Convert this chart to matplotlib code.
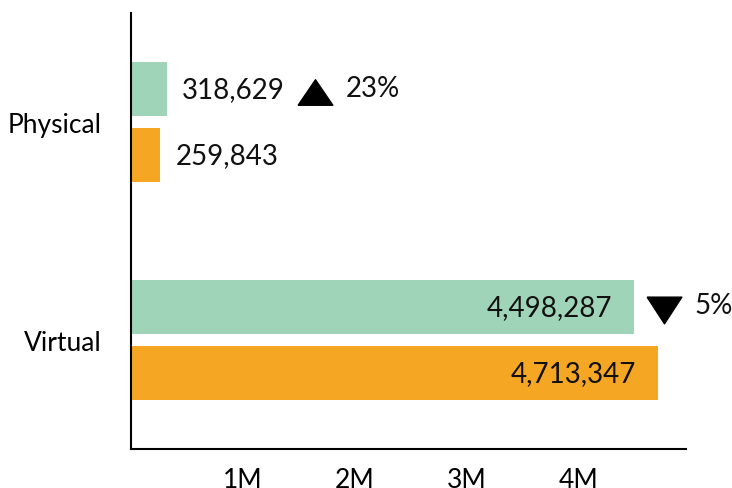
import numpy as np
import matplotlib.pyplot as plt

plt.rcParams['font.family'] = ['Lato', 'DejaVu Sans']

categories = ['Physical', 'Virtual']
current = [318629, 4498287]
previous = [259843, 4713347]
change_labels = ['23%', '5%']
change_dirs = ['up', 'down']
tick_vals = [1e6, 2e6, 3e6, 4e6]
tick_labels = ['1M', '2M', '3M', '4M']

green = '#a0d4b8'
orange = '#f5a623'

fig = plt.figure(figsize=(7.32, 4.89), dpi=100)
ax = fig.add_axes([0.179, 0.080, 0.758, 0.891])

y = np.arange(len(categories))
h = 0.25
off = 0.152
bars_cur = ax.barh(y - off, current, height=h, color=green)
bars_prev = ax.barh(y + off, previous, height=h, color=orange)

ax.set_xlim(0, 4.96e6)
ax.set_ylim(1.50, -0.50)
ax.set_yticks(y)
ax.set_yticklabels(categories, fontsize=19)
ax.set_xticks(tick_vals)
ax.set_xticklabels(tick_labels, fontsize=19)
ax.tick_params(axis='both', length=0)
ax.tick_params(axis='y', pad=21)
ax.tick_params(axis='x', pad=13)
for s in ['top', 'right']:
    ax.spines[s].set_visible(False)
for s in ['left', 'bottom']:
    ax.spines[s].set_linewidth(1.5)

# value labels: outside for short bars, inside for long ones
fig.canvas.draw()
anchors = []
for bars in [bars_cur, bars_prev]:
    for i, b in enumerate(bars):
        v = b.get_width()
        yc = b.get_y() + b.get_height() / 2
        if v > 2e6:
            t = ax.annotate(f'{v:,.0f}', xy=(v, yc), xytext=(-16, 0), textcoords='offset points',
                            ha='right', va='center', fontsize=20, color='#111111')
        else:
            t = ax.annotate(f'{v:,.0f}', xy=(v, yc), xytext=(11, 0), textcoords='offset points',
                            ha='left', va='center', fontsize=20, color='#111111')
        if bars is bars_cur:
            anchors.append(t)

fig.canvas.draw()
rend = fig.canvas.get_renderer()
up = [(-1.36, -1), (1.36, -1), (0, 1), (-1.36, -1)]
down = [(-1.3, 1), (1.3, 1), (0, -1), (-1.3, 1)]
for i, b in enumerate(bars_cur):
    yc = b.get_y() + b.get_height() / 2
    bar_end = ax.transData.transform((b.get_width(), yc))[0]
    lab_end = anchors[i].get_window_extent(rend).x1
    x_disp = max(bar_end, lab_end) + 13 + 17
    x_data = ax.transData.inverted().transform((x_disp, 0))[0]
    ax.plot([x_data], [yc + 0.015], marker=up if change_dirs[i] == 'up' else down,
            markersize=25, color='black', linestyle='none', clip_on=False)
    ax.annotate(change_labels[i], xy=(x_data, yc), xytext=(22, 1), textcoords='offset points',
                ha='left', va='center', fontsize=20, color='#111111', annotation_clip=False)

fig.savefig('out.png', dpi=100)
